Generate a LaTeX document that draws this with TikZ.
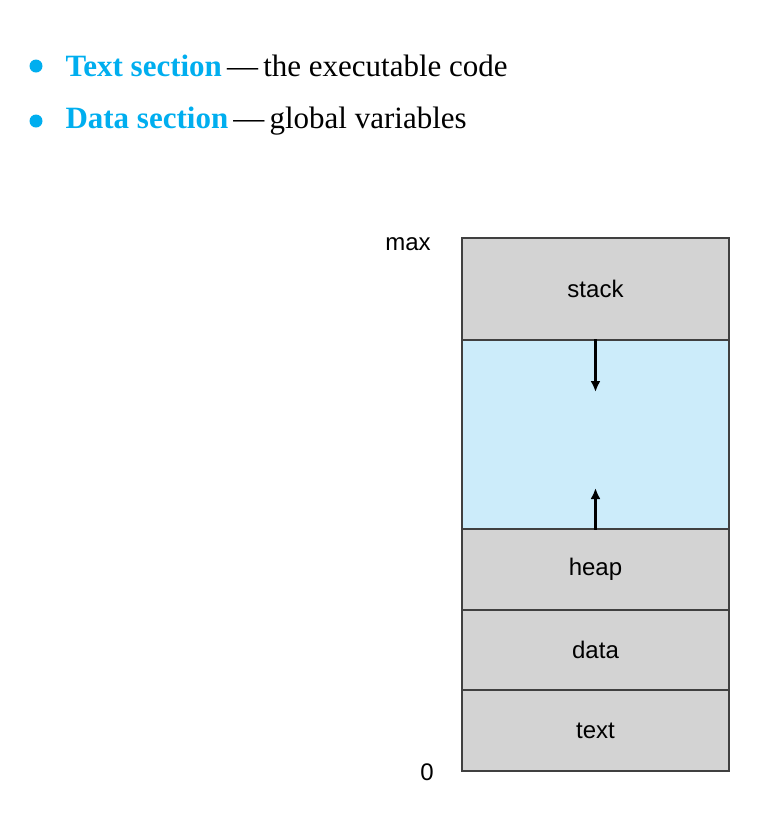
\documentclass[tikz,border=0pt]{standalone}
\usepackage{fontspec}
\setmainfont{Liberation Serif}
\setsansfont{Liberation Sans}
\usetikzlibrary{arrows.meta, positioning}
\definecolor{headblue}{RGB}{0,174,239}
\definecolor{freeblue}{RGB}{204,236,250}
\definecolor{segray}{RGB}{211,211,211}
\begin{document}
\begin{tikzpicture}[x=1pt, y=-1pt]
	\tikzstyle{Seg} = [rectangle, draw=black!75, line width=1.2pt, minimum width=267pt, text centered, font=\sffamily\fontsize{24}{28}\selectfont]
	\tikzstyle{arrow} = [line width=2.4pt, -{Latex[length=11pt,width=10pt]}]
	\tikzstyle{Lbl} = [font=\sffamily\fontsize{24}{28}\selectfont]
	\tikzstyle{Item} = [anchor=west, font=\fontsize{31}{34}\selectfont]

	\useasboundingbox (0,0) rectangle (759,823);

	% bullets
	\fill [headblue] (36,66) circle (6.5);
	\fill [headblue] (36,121) circle (6.5);
	\node (item1) [Item] at (62,66) {\textcolor{headblue}{\textbf{Text\ section}}\,---\,the executable code};
	\node (item2) [Item] at (62,121) {\textcolor{headblue}{\textbf{Data\ section}}\,---\,global variables};

	% memory layout
	\node (stack) [Seg, fill=segray, minimum height=102pt] at (595.5,289) {stack};
	\node (free) [Seg, fill=freeblue, minimum height=189pt] at (595.5,434.5) {};
	\node (heap) [Seg, fill=segray, minimum height=81pt] at (595.5,569.5) {heap};
	\node (data) [Seg, fill=segray, minimum height=80pt] at (595.5,650) {data};
	\node (text) [Seg, fill=segray, minimum height=81pt] at (595.5,730.5) {text};

	\coordinate (down) at (595.5,392);
	\coordinate (up) at (595.5,488);
	\draw [arrow] (free.north) -- (down);
	\draw [arrow] (free.south) -- (up);

	\node (max) [Lbl] at (408,244) {max};
	\node (zero) [Lbl] at (427,772) {0};
\end{tikzpicture}
\end{document}
